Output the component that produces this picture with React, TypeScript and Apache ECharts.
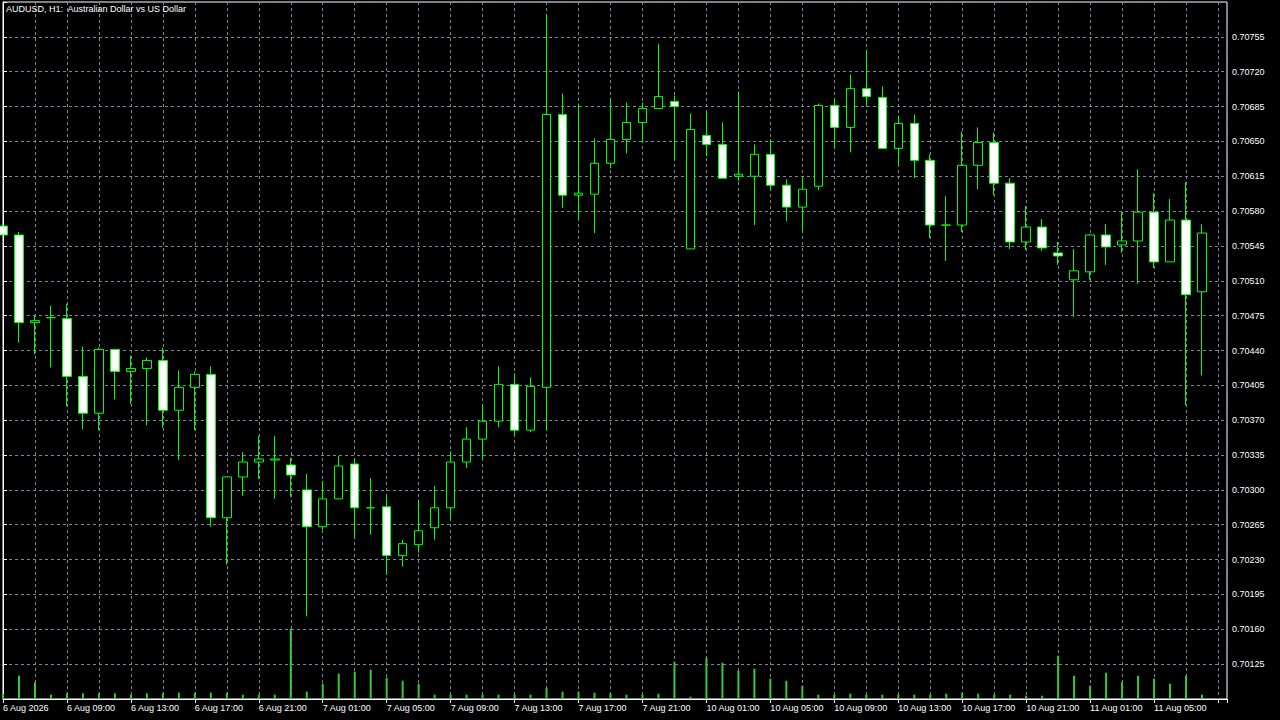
import React, { useEffect, useRef } from 'react';
import * as echarts from 'echarts';

const chartTitle = 'AUDUSD, H1:  Australian Dollar vs US Dollar';

// H1 bars, 6 Aug 05:00 .. 11 Aug 08:00 (weekend skipped)
const openPx = [
  0.70565, 0.70556, 0.70468, 0.70473, 0.70472, 0.70414, 0.70377, 0.70441, 0.70419, 0.70422,
  0.7043, 0.7038, 0.70403, 0.70416, 0.70272, 0.70313, 0.70328, 0.7033, 0.70325, 0.703,
  0.70263, 0.70291, 0.70326, 0.70282, 0.70283, 0.70234, 0.70245, 0.70262, 0.70282, 0.70328,
  0.70351, 0.70369, 0.70406, 0.7036, 0.70403, 0.70677, 0.70596, 0.70597, 0.70628, 0.70652,
  0.70669, 0.70683, 0.7069, 0.70542, 0.70656, 0.70647, 0.70615, 0.70615, 0.70637, 0.70606,
  0.70584, 0.70605, 0.70686, 0.70664, 0.70703, 0.70694, 0.70643, 0.70668, 0.70631, 0.70566,
  0.70566, 0.70626, 0.70649, 0.70608, 0.70549, 0.70564, 0.70538, 0.70511, 0.70519, 0.70556,
  0.70546, 0.7055, 0.70579, 0.70529, 0.70571, 0.70499,
];
const closePx = [
  0.70556, 0.70468, 0.7047, 0.70473, 0.70414, 0.70377, 0.70441, 0.70419, 0.70422, 0.7043,
  0.7038, 0.70403, 0.70416, 0.70272, 0.70313, 0.70328, 0.70331, 0.70331, 0.70315, 0.70263,
  0.70291, 0.70324, 0.70282, 0.70282, 0.70234, 0.70246, 0.70259, 0.70282, 0.70328, 0.70351,
  0.70369, 0.70406, 0.7036, 0.70404, 0.70677, 0.70596, 0.70598, 0.70628, 0.70652, 0.70669,
  0.70683, 0.70695, 0.70685, 0.70662, 0.70647, 0.70613, 0.70617, 0.70637, 0.70606, 0.70584,
  0.70602, 0.70686, 0.70664, 0.70703, 0.70695, 0.70643, 0.70668, 0.70631, 0.70566, 0.70566,
  0.70626, 0.70649, 0.70608, 0.70549, 0.70564, 0.70543, 0.70535, 0.7052, 0.70556, 0.70544,
  0.7055, 0.70579, 0.70529, 0.70571, 0.70496, 0.70558,
];
const lowPx = [
  0.70555, 0.70448, 0.70436, 0.70423, 0.70384, 0.70361, 0.7036, 0.70391, 0.70386, 0.70365,
  0.70362, 0.7033, 0.7036, 0.70263, 0.70225, 0.70294, 0.70311, 0.70291, 0.70293, 0.70173,
  0.7026, 0.70291, 0.70251, 0.70255, 0.70216, 0.70223, 0.70237, 0.7025, 0.7027, 0.70322,
  0.7033, 0.70363, 0.70354, 0.70358, 0.7036, 0.70583, 0.70571, 0.70558, 0.70623, 0.70638,
  0.70649, 0.70683, 0.70631, 0.70542, 0.70635, 0.70613, 0.7061, 0.70566, 0.70601, 0.7057,
  0.7056, 0.70601, 0.70643, 0.70639, 0.70686, 0.70643, 0.70626, 0.70613, 0.70553, 0.7053,
  0.70559, 0.70602, 0.70596, 0.70542, 0.70541, 0.7054, 0.70526, 0.70474, 0.70511, 0.70526,
  0.70538, 0.70507, 0.70523, 0.70529, 0.70385, 0.70415,
];
const highPx = [
  0.70566, 0.70559, 0.70475, 0.70485, 0.70487, 0.70444, 0.70443, 0.70441, 0.70435, 0.70433,
  0.70443, 0.7042, 0.70419, 0.70424, 0.70313, 0.70338, 0.70354, 0.70354, 0.70332, 0.70316,
  0.70309, 0.70334, 0.70332, 0.70312, 0.70296, 0.7025, 0.7029, 0.70304, 0.70339, 0.70363,
  0.70386, 0.70424, 0.70417, 0.70413, 0.70778, 0.70698, 0.70688, 0.70653, 0.70693, 0.70689,
  0.70689, 0.70748, 0.70696, 0.70678, 0.70679, 0.70669, 0.707, 0.70647, 0.70652, 0.70612,
  0.70615, 0.70688, 0.70693, 0.70717, 0.70742, 0.70705, 0.70676, 0.70677, 0.70637, 0.70595,
  0.7066, 0.70664, 0.70659, 0.70613, 0.70585, 0.70572, 0.70549, 0.70542, 0.70557, 0.70567,
  0.70579, 0.70622, 0.70598, 0.70592, 0.70609, 0.70567,
];
const tickVolume = [
  50, 233, 167, 43, 57, 57, 57, 57, 43, 57,
  57, 63, 63, 63, 63, 43, 43, 43, 703, 73,
  153, 253, 273, 293, 213, 183, 153, 43, 43, 43,
  43, 43, 43, 43, 113, 73, 73, 63, 57, 43,
  43, 53, 373, 23, 413, 363, 283, 303, 203, 183,
  133, 43, 43, 53, 43, 43, 43, 43, 43, 53,
  63, 53, 43, 43, 33, 33, 433, 233, 133, 263,
  173, 233, 203, 153, 233, 43,
];
// one label every 4 bars, starting at the first bar
const timeLabels = [
  '6 Aug 2026', '6 Aug 09:00', '6 Aug 13:00', '6 Aug 17:00', '6 Aug 21:00',
  '7 Aug 01:00', '7 Aug 05:00', '7 Aug 09:00', '7 Aug 13:00', '7 Aug 17:00', '7 Aug 21:00',
  '10 Aug 01:00', '10 Aug 05:00', '10 Aug 09:00', '10 Aug 13:00', '10 Aug 17:00', '10 Aug 21:00',
  '11 Aug 01:00', '11 Aug 05:00',
];

const FONT = "'Liberation Sans', Arial, sans-serif";
const GREEN = '#00ff00';
const GRID_LINE = '#778899';

export default function App() {
  const chartRef = useRef<HTMLDivElement>(null);

  useEffect(() => {
    if (!chartRef.current) return;
    const chart = echarts.init(chartRef.current, undefined, { renderer: 'svg' });

    const candles = openPx.map((o, i) => [i, o, closePx[i], lowPx[i], highPx[i]]);
    const volumes = tickVolume.map((v, i) => [i, v]);
    const lastPrice = closePx[closePx.length - 1];

    const option: any = {
      animation: false,
      backgroundColor: '#000',
      title: {
        text: chartTitle,
        left: 6,
        top: 4,
        padding: 0,
        textStyle: { color: '#fff', fontSize: 9, fontWeight: 'normal', fontFamily: FONT },
      },
      grid: {
        left: 2,
        top: 2,
        right: 53,
        bottom: 21,
        show: true,
        borderColor: '#fff',
        borderWidth: 1,
        backgroundColor: 'transparent',
      },
      xAxis: {
        type: 'value',
        min: 0,
        max: 76.5625,
        interval: 4,
        axisLine: { show: true, lineStyle: { color: '#fff' } },
        axisTick: { show: true, length: 4, lineStyle: { color: '#fff' } },
        axisLabel: {
          color: '#fff',
          fontSize: 9,
          fontFamily: FONT,
          align: 'left',
          margin: 4,
          formatter: (v: number) => {
            const i = Math.round(v);
            if (Math.abs(v - i) > 1e-6 || i % 4 !== 0) return '';
            return timeLabels[i / 4] ?? '';
          },
        },
        splitLine: { show: true, lineStyle: { color: GRID_LINE, type: [3, 3], width: 1 } },
        minorTick: { show: false, splitNumber: 2 },
        minorSplitLine: { show: true, lineStyle: { color: GRID_LINE, type: [3, 3], width: 1 } },
      },
      yAxis: [
        {
          type: 'value',
          position: 'right',
          min: 0.7009,
          max: 0.7079,
          interval: 0.00035,
          scale: true,
          axisLine: { show: true, lineStyle: { color: '#fff' } },
          axisTick: { show: true, length: 4, lineStyle: { color: '#fff' } },
          axisLabel: {
            color: '#fff',
            fontSize: 9,
            fontFamily: FONT,
            margin: 5,
            formatter: (v: number) => (v < 0.700905 || v > 0.707895 ? '' : v.toFixed(5)),
          },
          splitLine: { show: true, lineStyle: { color: GRID_LINE, type: [3, 3], width: 1 } },
        },
        {
          // volumes: the tallest bar fills about a tenth of the pane
          type: 'value',
          min: 0,
          max: 6970,
          show: false,
          splitLine: { show: false },
        },
      ],
      series: [
        {
          name: 'Volume',
          type: 'bar',
          xAxisIndex: 0,
          yAxisIndex: 1,
          data: volumes,
          barWidth: 2,
          itemStyle: { color: '#32cd32' },
          z: 2,
        },
        {
          name: 'AUDUSD',
          type: 'candlestick',
          xAxisIndex: 0,
          yAxisIndex: 0,
          data: candles,
          barWidth: 9,
          itemStyle: {
            color: '#000',
            color0: '#fff',
            borderColor: GREEN,
            borderColor0: GREEN,
            borderColorDoji: GREEN,
            borderWidth: 1,
          },
          z: 3,
          markLine: {
            silent: true,
            symbol: ['none', 'none'],
            lineStyle: { color: '#8c8c8c', type: 'solid', width: 1 },
            label: {
              show: true,
              position: 'end',
              distance: 2,
              formatter: lastPrice.toFixed(5),
              color: '#e8e8e8',
              backgroundColor: '#778899',
              padding: [1, 3, 1, 3],
              fontSize: 9,
              fontFamily: FONT,
            },
            data: [{ yAxis: lastPrice }],
          },
        },
      ],
    };

    chart.setOption(option);
    return () => {
      chart.dispose();
    };
  }, []);

  return (
    <div
      ref={chartRef}
      style={{ position: 'fixed', left: 0, top: 0, width: 1280, height: 720, background: '#000' }}
    />
  );
}
